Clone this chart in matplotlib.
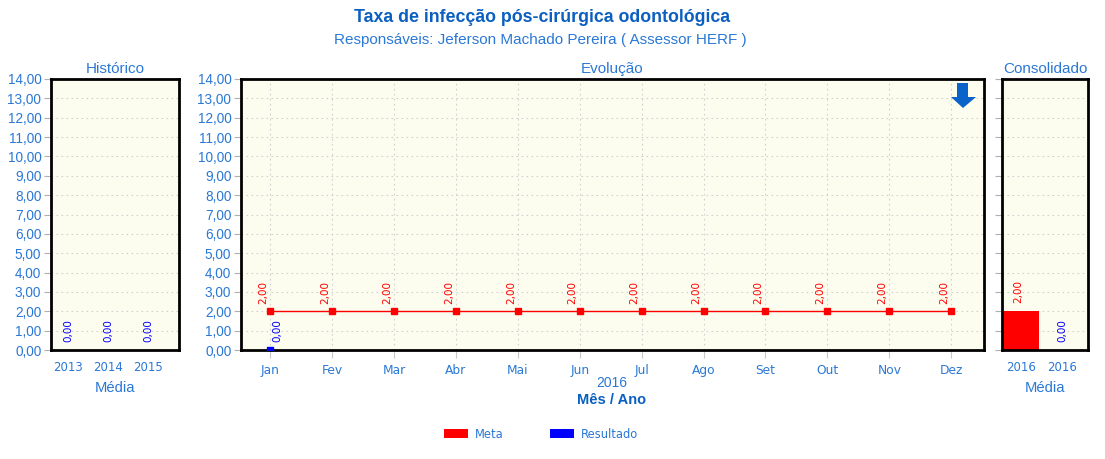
import matplotlib.pyplot as plt
from matplotlib.patches import Patch, Polygon

# data
hist_years = ["2013", "2014", "2015"]
hist_result = [0.00, 0.00, 0.00]

months = ["Jan", "Fev", "Mar", "Abr", "Mai", "Jun", "Jul", "Ago", "Set", "Out", "Nov", "Dez"]
meta = [2.00, 2.00, 2.00, 2.00, 2.00, 2.00, 2.00, 2.00, 2.00, 2.00, 2.00, 2.00]
result_months = ["Jan"]
result = [0.00]

cons_labels = ["2016", "2016"]
cons_meta = [2.00]
cons_result = [0.00]

y_ticks = list(range(0, 15))

BLUE_TXT = "#2a78d6"
TITLE_BLUE = "#0b5fc0"
BG = "#fdfdef"
RED = "#ff0000"
DARK_BLUE = "#0000ff"
W, H = 1105, 459


def fmt(v):
    return f"{v:.2f}".replace(".", ",")


def style_axes(ax, show_ylabels=True):
    ax.set_facecolor(BG)
    ax.set_ylim(0, 14)
    ax.set_yticks(y_ticks)
    if show_ylabels:
        ax.set_yticklabels([fmt(v) for v in y_ticks], fontsize=9.8,
                           family="Liberation Sans", color=BLUE_TXT)
    else:
        ax.set_yticklabels([])
    ax.tick_params(axis="y", length=5, color="#b0b0b0", pad=2)
    ax.grid(axis="y", linestyle=(0, (1.5, 3)), color="#d0d0d0", linewidth=0.8)
    ax.set_axisbelow(True)
    for s in ax.spines.values():
        s.set_linewidth(2)
        s.set_color("black")


def value_label(ax, x, y, v, color, dx, dy):
    ax.annotate(fmt(v), (x, y), xytext=(dx, dy), textcoords="offset points",
                rotation=90, ha="center", va="bottom", fontsize=7.5,
                color=color, family="DejaVu Sans")


fig = plt.figure(figsize=(W / 100, H / 100), dpi=100)

def axes_px(x0, x1, y0=79, y1=350):
    return fig.add_axes([x0 / W, (H - y1) / H, (x1 - x0) / W, (y1 - y0) / H])

ax_h = axes_px(51, 179)
ax_m = axes_px(241, 984)
ax_c = axes_px(1002, 1088)

# Historico
style_axes(ax_h)
xh = list(range(len(hist_years)))
ax_h.set_xlim(-0.43, 2.78)
ax_h.set_xticks(xh)
ax_h.set_xticklabels(hist_years, fontsize=8.5, color=BLUE_TXT, family="DejaVu Sans")
ax_h.tick_params(axis="x", length=0, pad=8)
ax_h.bar(xh, hist_result, width=0.9, color=DARK_BLUE)
for x, v in zip(xh, hist_result):
    value_label(ax_h, x, v, v, DARK_BLUE, 0, 5.5)

# Evolucao
style_axes(ax_m)
xm = list(range(len(months)))
ax_m.set_xlim(-0.47, 11.53)
ax_m.set_xticks(xm)
ax_m.set_xticklabels(months, fontsize=8.8, color=BLUE_TXT, family="DejaVu Sans")
ax_m.tick_params(axis="x", length=6, color="#c8c8c8", pad=4)
ax_m.grid(axis="x", linestyle=(0, (1.5, 3)), color="#d0d0d0", linewidth=0.8)
ax_m.plot(xm, meta, color=RED, linewidth=1, marker="s", markersize=4,
          clip_on=False, zorder=3)
xr = [months.index(m) for m in result_months]
ax_m.plot(xr, result, color=DARK_BLUE, linewidth=1, marker="s", markersize=4,
          clip_on=True, zorder=3)
for x, v in zip(xm, meta):
    value_label(ax_m, x, v, v, RED, -5, 5.5)
for x, v in zip(xr, result):
    value_label(ax_m, x, v, v, DARK_BLUE, 5.5, 5.5)

# arrow icon (pixel coords inside the figure)
arrow_px = [(957, 83), (968, 83), (968, 97), (976, 97), (963, 108), (951, 97), (957, 97)]
arrow_fig = [(x / W, 1 - y / H) for x, y in arrow_px]
fig.patches.append(Polygon(arrow_fig, closed=True, transform=fig.transFigure,
                           facecolor="#0a63c9", edgecolor="none", zorder=5))

# Consolidado
style_axes(ax_c, show_ylabels=False)
xc = list(range(len(cons_labels)))
ax_c.set_xlim(-0.45, 1.62)
ax_c.set_xticks(xc)
ax_c.set_xticklabels(cons_labels, fontsize=8.5, color=BLUE_TXT, family="DejaVu Sans")
ax_c.tick_params(axis="x", length=0, pad=8)
ax_c.bar([xc[0]], cons_meta, width=0.9, color=RED)
ax_c.bar([xc[1]], cons_result, width=0.9, color=DARK_BLUE)
for v in cons_meta:
    value_label(ax_c, xc[0], v, v, RED, -2, 6)
for v in cons_result:
    value_label(ax_c, xc[1], v, v, DARK_BLUE, 0, 5.5)

# texts
fig.text(542 / W, 1 - 18 / H, "Taxa de infecção pós-cirúrgica odontológica",
         ha="center", va="center", fontsize=12.8, fontweight="bold",
         color=TITLE_BLUE, family="Liberation Sans")
fig.text(540 / W, 1 - 40 / H, "Responsáveis: Jeferson Machado Pereira ( Assessor HERF )",
         ha="center", va="center", fontsize=11, color=BLUE_TXT, family="Liberation Sans")
for cx, t in [(115, "Histórico"), (612, "Evolução"), (1045, "Consolidado")]:
    fig.text(cx / W, 1 - 69 / H, t, ha="center", va="center", fontsize=11,
             color=BLUE_TXT, family="Liberation Sans")
for cx in (115, 1045):
    fig.text(cx / W, 1 - 388 / H, "Média", ha="center", va="center", fontsize=10.6,
             color=BLUE_TXT, family="Liberation Sans")
fig.text(612 / W, 1 - 383 / H, "2016", ha="center", va="center", fontsize=10,
         color=BLUE_TXT, family="Liberation Sans")
fig.text(612 / W, 1 - 400 / H, "Mês / Ano", ha="center", va="center", fontsize=10.5,
         fontweight="bold", color=TITLE_BLUE, family="Liberation Sans")

handles = [Patch(facecolor=RED, label="Meta"), Patch(facecolor=DARK_BLUE, label="Resultado")]
leg = fig.legend(handles=handles, loc="center", bbox_to_anchor=(541 / W, 1 - 434 / H),
                 ncol=2, frameon=False, fontsize=8.3, handlelength=2.1, handleheight=0.8,
                 handletextpad=0.6, columnspacing=4.0)
for t in leg.get_texts():
    t.set_color(BLUE_TXT)

fig.savefig("out.png", dpi=100, facecolor="white")
